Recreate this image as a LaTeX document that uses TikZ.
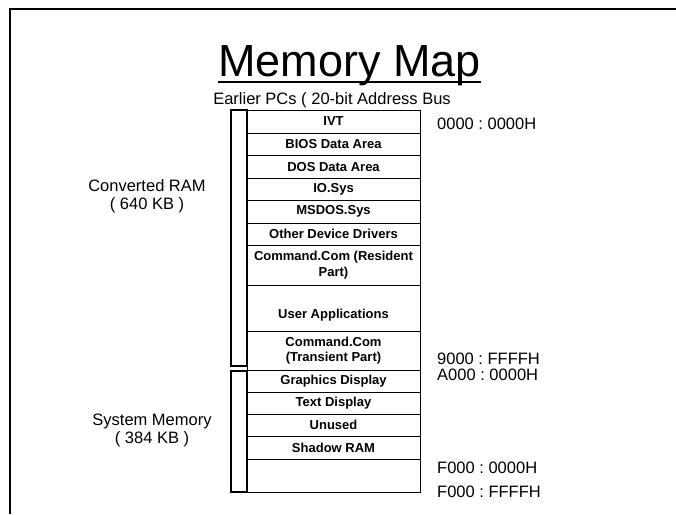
\documentclass[tikz,border=0pt]{standalone}
\usepackage{fontspec}
\setmainfont{Liberation Sans}
\frenchspacing
\usetikzlibrary{positioning, calc}

\begin{document}
\begin{tikzpicture}[x=1pt, y=-1pt, node distance=0pt,
    memrow/.style={rectangle, draw, line width=1pt, minimum width=173pt, outer sep=0pt, inner sep=1pt, align=center, font=\fontsize{13}{15.5}\selectfont\bfseries},
    bar/.style={draw, line width=2pt},
    region/.style={align=center, inner sep=0pt, font=\fontsize{16.5}{18}\selectfont},
    addr/.style={anchor=base west, inner sep=0pt, font=\fontsize{16.5}{18}\selectfont},
    frame/.style={line width=2pt}]

    \useasboundingbox (0,0) rectangle (676,514);

    % Frame
    \draw[frame] (10,514) -- (10,9) -- (676,9);

    % Title
    \node[anchor=base, inner sep=0pt, font=\fontsize{45}{50}\selectfont] (title) at (349.5,76.5) {Memory Map};
    \draw[line width=2pt] ([yshift=-5.5pt]title.base west) -- ([yshift=-5.5pt]title.base east);
    \node[anchor=base, inner sep=0pt, font=\fontsize{16.5}{18}\selectfont] (sub) at (332,104) {Earlier PCs ( 20-bit Address Bus};

    % Converted RAM
    \node[memrow, anchor=north, minimum height=23pt] (ivt) at (333.5,110) {IVT};
    \node[memrow, below=of ivt, minimum height=22.5pt] (bios) {BIOS Data Area};
    \node[memrow, below=of bios, minimum height=22.5pt] (dos) {DOS Data Area};
    \node[memrow, below=of dos, minimum height=22.5pt] (iosys) {IO.Sys};
    \node[memrow, below=of iosys, minimum height=22.5pt] (msdos) {MSDOS.Sys};
    \node[memrow, below=of msdos, minimum height=22.5pt] (drivers) {Other Device Drivers};
    \node[memrow, below=of drivers, minimum height=39.5pt] (cmdres) {Command.Com (Resident\\Part)};
    \node[memrow, below=of cmdres, minimum height=46pt] (userapp) {\vphantom{X}\\User Applications};
    \node[memrow, below=of userapp, minimum height=39pt] (cmdtr) {Command.Com\\(Transient Part)};

    % System Memory
    \node[memrow, below=of cmdtr, minimum height=22pt] (gfx) {Graphics Display};
    \node[memrow, below=of gfx, minimum height=22pt] (txt) {Text Display};
    \node[memrow, below=of txt, minimum height=22pt] (unused) {Unused};
    \node[memrow, below=of unused, minimum height=23pt] (shadow) {Shadow RAM};
    \node[memrow, below=of shadow, minimum height=33pt] (rom) {};

    % Brackets
    \draw[bar] ([xshift=-16pt]ivt.north west) rectangle ([yshift=4pt]cmdtr.south west);
    \draw[bar] ([xshift=-16pt,yshift=-1pt]gfx.north west) rectangle (rom.south west);

    % Region labels
    \node[region] (convram) at (147,196.7) {Converted RAM\\( 640 KB )};
    \node[region] (sysmem) at (152,430.4) {System Memory\\( 384 KB )};

    % Addresses
    \node[addr] (a0) at (437,129) {0000 : 0000H};
    \node[addr] (a9) at (437,364) {9000 : FFFFH};
    \node[addr] (aa) at (437,380) {A000 : 0000H};
    \node[addr] (af0) at (437,473) {F000 : 0000H};
    \node[addr] (aff) at (437,497) {F000 : FFFFH};
\end{tikzpicture}
\end{document}
